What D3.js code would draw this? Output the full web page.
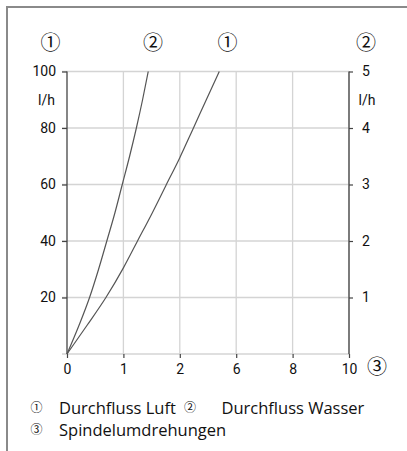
<!DOCTYPE html>
<html>
<head>
<meta charset="utf-8">
<script src="https://cdn.jsdelivr.net/npm/d3@7"></script>
<style>
  html, body { margin: 0; padding: 0; background: #fff; }
  svg { display: block; }
</style>
</head>
<body>
<svg id="chart" width="407" height="451"></svg>
<script>
// X axis categories (evenly spaced in the original chart)
const xTickLabels = ["0", "1", "2", "6", "8", "10"];
// Left axis: Durchfluss Luft (l/h)
const leftTicks = [20, 40, 60, 80, 100];
// Right axis: Durchfluss Wasser (l/h)
const rightTicks = [1, 2, 3, 4, 5];

// Curve ① Durchfluss Luft: x position (in category index units), value in l/h (left axis)
const airX = [0, 0.35, 0.69, 1.0, 1.25, 1.5, 1.75, 2.0, 2.23, 2.47, 2.70];
const airY = [0, 10, 20, 30.5, 40, 49.5, 59.5, 69.5, 79.5, 90, 100];
// Curve ② Durchfluss Wasser: x position, value in l/h (right axis)
const waterX = [0, 0.21, 0.40, 0.56, 0.706, 0.85, 0.98, 1.11, 1.23, 1.34, 1.44];
const waterY = [0, 0.5, 1, 1.5, 2, 2.5, 3, 3.5, 4, 4.5, 5];

const legendItems = [
  { mark: "\u2460", label: "Durchfluss Luft" },
  { mark: "\u2461", label: "Durchfluss Wasser" },
  { mark: "\u2462", label: "Spindelumdrehungen" }
];

const svg = d3.select("#chart");
const tickFont = "Roboto, 'DejaVu Sans', sans-serif";
const circFont = "'Noto Sans CJK JP', 'DejaVu Sans', sans-serif";
const legendFont = "'Open Sans', 'Noto Sans', sans-serif";

// outer frame (top + left)
svg.append("path")
  .attr("d", "M7,451 L7,7 L407,7")
  .attr("fill", "none")
  .attr("stroke", "#8a8a8a")
  .attr("stroke-width", 2);

const x = d3.scaleLinear().domain([0, xTickLabels.length - 1]).range([67, 349]);
const yL = d3.scaleLinear().domain([0, 100]).range([354, 71.5]);
const yR = d3.scaleLinear().domain([0, 5]).range([354, 71.5]);

const gridColor = "#d4d4d4";
const axisColor = "#444";

// vertical gridlines
svg.append("g").selectAll("line")
  .data(d3.range(1, xTickLabels.length))
  .join("line")
  .attr("x1", d => x(d)).attr("x2", d => x(d))
  .attr("y1", yL(100)).attr("y2", yL(0))
  .attr("stroke", gridColor).attr("stroke-width", 1.3);

// horizontal gridlines
svg.append("g").selectAll("line")
  .data([0].concat(leftTicks))
  .join("line")
  .attr("x1", 62).attr("x2", x(xTickLabels.length - 1))
  .attr("y1", d => yL(d)).attr("y2", d => yL(d))
  .attr("stroke", gridColor).attr("stroke-width", 1.3);

// left axis
const leftAxis = d3.axisLeft(yL).tickValues(leftTicks).tickSize(5).tickPadding(6)
  .tickFormat(d => d);
const gL = svg.append("g").attr("transform", `translate(${x(0)},0)`).call(leftAxis);
gL.select(".domain").remove();
gL.append("line").attr("x1", 0).attr("x2", 0).attr("y1", yL(0)).attr("y2", yL(100))
  .attr("stroke", axisColor).attr("stroke-width", 1.3);

// right axis
const rightAxis = d3.axisRight(yR).tickValues(rightTicks).tickSize(4).tickPadding(9)
  .tickFormat(d => d);
const gR = svg.append("g").attr("transform", `translate(${x(xTickLabels.length - 1)},0)`).call(rightAxis);
gR.select(".domain").remove();
gR.append("line").attr("x1", 0).attr("x2", 0).attr("y1", yR(0)).attr("y2", yR(5))
  .attr("stroke", axisColor).attr("stroke-width", 1.3);

// bottom axis
const bottomAxis = d3.axisBottom(x).tickValues(d3.range(xTickLabels.length)).tickSize(4).tickPadding(6)
  .tickFormat(i => xTickLabels[i]);
const gB = svg.append("g").attr("transform", `translate(0,${yL(0)})`).call(bottomAxis);
gB.select(".domain").remove();

[gL, gR, gB].forEach(g => {
  g.selectAll(".tick line").attr("stroke", axisColor).attr("stroke-width", 1.2);
  g.selectAll(".tick text").attr("fill", "#111")
    .style("font-family", tickFont).style("font-size", "14px");
});
gR.selectAll(".tick text").attr("text-anchor", "middle").attr("x", 17);

// unit labels
svg.append("text").attr("x", 55).attr("y", 100).attr("dy", "0.35em").attr("text-anchor", "end")
  .style("font-family", tickFont).style("font-size", "14px").attr("fill", "#111").text("l/h");
svg.append("text").attr("x", 367).attr("y", 100).attr("dy", "0.35em").attr("text-anchor", "middle")
  .style("font-family", tickFont).style("font-size", "14px").attr("fill", "#111").text("l/h");

// circled header markers
const markers = [
  { t: "\u2460", cx: 50.5, cy: 43 },
  { t: "\u2461", cx: 153, cy: 43 },
  { t: "\u2460", cx: 227.5, cy: 43 },
  { t: "\u2461", cx: 366, cy: 43 },
  { t: "\u2462", cx: 377, cy: 367 }
];
svg.append("g").selectAll("text").data(markers).join("text")
  .attr("x", d => d.cx).attr("y", d => d.cy).attr("dy", "0.35em")
  .attr("text-anchor", "middle")
  .style("font-family", circFont).style("font-size", "20px").attr("fill", "#111")
  .text(d => d.t);

// curves
const lineAir = d3.line().x(d => x(d[0])).y(d => yL(d[1])).curve(d3.curveMonotoneX);
const lineWater = d3.line().x(d => x(d[0])).y(d => yR(d[1])).curve(d3.curveMonotoneX);
svg.append("path").datum(d3.zip(airX, airY)).attr("d", lineAir)
  .attr("fill", "none").attr("stroke", "#555").attr("stroke-width", 1.2);
svg.append("path").datum(d3.zip(waterX, waterY)).attr("d", lineWater)
  .attr("fill", "none").attr("stroke", "#555").attr("stroke-width", 1.2);

// legend
const legendPos = [
  { mx: 36.5, tx: 59, y: 408 },
  { mx: 190, tx: 221.5, y: 408 },
  { mx: 36.5, tx: 59, y: 430 }
];
const lg = svg.append("g");
legendItems.forEach((it, i) => {
  const p = legendPos[i];
  lg.append("text").attr("x", p.mx).attr("y", p.y).attr("dy", "0.35em").attr("text-anchor", "middle")
    .style("font-family", circFont).style("font-size", "12px").attr("fill", "#111").text(it.mark);
  lg.append("text").attr("x", p.tx).attr("y", p.y).attr("dy", "0.35em")
    .style("font-family", legendFont).style("font-size", "16.5px").attr("fill", "#111").text(it.label);
});
</script>
</body>
</html>
